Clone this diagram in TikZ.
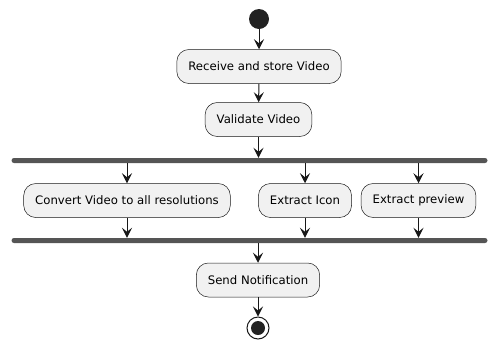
\documentclass[tikz,border=0pt]{standalone}
\usepackage{fontspec}
\setmainfont{DejaVu Sans}
\usetikzlibrary{arrows.meta}
\definecolor{actfill}{HTML}{F1F1F1}
\definecolor{lineclr}{HTML}{181818}
\definecolor{barclr}{HTML}{555555}
\definecolor{dotclr}{HTML}{222222}

\begin{document}
\begin{tikzpicture}[x=1pt, y=-1pt,
    action/.style={draw=lineclr, fill=actfill, rounded corners=12pt, line width=0.5pt,
        minimum height=34pt, inner xsep=11.5pt, font=\fontsize{11.7}{14}\selectfont},
    flow/.style={draw=lineclr, line width=1pt, -{Stealth[length=10pt, width=10pt, inset=4pt]}},
    syncbar/.style={fill=barclr, rounded corners=2.5pt, minimum width=476pt,
        minimum height=5pt, inner sep=0pt}]
    \useasboundingbox (0,0) rectangle (497,349);

    % Start and first actions
    \node[circle, fill=dotclr, minimum size=20pt, inner sep=0pt] (start) at (259,19) {};
    \node[action] (receive) at (259,66.5) {Receive and store Video};
    \node[action] (validate) at (258.5,119.5) {Validate Video};

    % Fork
    \node[syncbar] (fork) at (249.5,160.5) {};

    % Parallel actions
    \node[action] (convert) at (127,200.5) {Convert Video to all resolutions};
    \node[action] (icon) at (305,200.5) {Extract Icon};
    \node[action] (preview) at (418.5,200.5) {Extract preview};

    % Join
    \node[syncbar] (join) at (249.5,240.5) {};

    % Last action and end
    \node[action] (notify) at (258,280) {Send Notification};
    \node[circle, draw=lineclr, line width=1pt, minimum size=22pt, inner sep=0pt] (stop) at (258,328) {};
    \node[circle, fill=dotclr, minimum size=14pt, inner sep=0pt] (stopdot) at (stop) {};

    % Flows
    \draw[flow] (start) -- (receive);
    \draw[flow] (receive) -- (validate);
    \draw[flow] (validate.south) -- (validate.south |- fork.north);
    \draw[flow] (fork.south -| convert.north) -- (convert);
    \draw[flow] (fork.south -| icon.north) -- (icon);
    \draw[flow] (fork.south -| preview.north) -- (preview);
    \draw[flow] (convert) -- (convert.south |- join.north);
    \draw[flow] (icon) -- (icon.south |- join.north);
    \draw[flow] (preview) -- (preview.south |- join.north);
    \draw[flow] (join.south -| notify.north) -- (notify);
    \draw[flow] (notify) -- (stop);
\end{tikzpicture}
\end{document}
